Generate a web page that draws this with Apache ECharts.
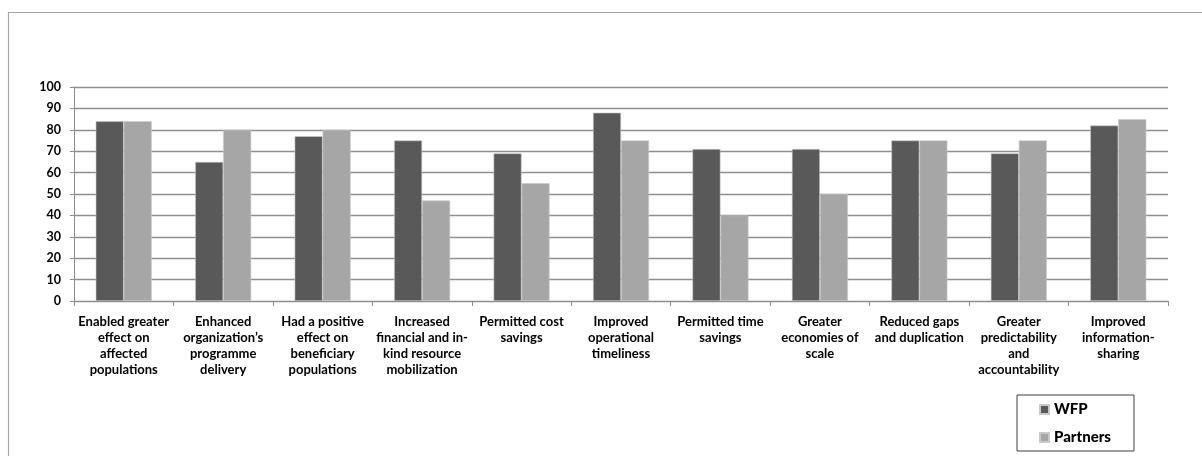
<!DOCTYPE html>
<html>
<head>
<meta charset="utf-8">
<script src="https://cdn.jsdelivr.net/npm/echarts@6/dist/echarts.min.js"></script>
<style>
html,body{margin:0;padding:0;background:#fff;}
#chart{width:1202px;height:456px;}
</style>
</head>
<body>
<div id="chart"></div>
<script>
const categories = [
  "Enabled greater\neffect on\naffected\npopulations",
  "Enhanced\norganization’s\nprogramme\ndelivery",
  "Had a positive\neffect on\nbeneficiary\npopulations",
  "Increased\nfinancial and in-\nkind resource\nmobilization",
  "Permitted cost\nsavings",
  "Improved\noperational\ntimeliness",
  "Permitted time\nsavings",
  "Greater\neconomies of\nscale",
  "Reduced gaps\nand duplication",
  "Greater\npredictability\nand\naccountability",
  "Improved\ninformation-\nsharing"
];
const seriesNames = ["WFP", "Partners"];
const wfpValues = [84, 65, 77, 75, 69, 88, 71, 71, 75, 69, 82];
const partnersValues = [84, 80, 80, 47, 55, 75, 40, 50, 75, 75, 85];

const chart = echarts.init(document.getElementById('chart'), null, {renderer: 'canvas'});
const FONT = 'Lato';
chart.setOption({
  animation: false,
  backgroundColor: '#ffffff',
  textStyle: {fontFamily: FONT},
  graphic: [{
    type: 'rect',
    shape: {x: 8.5, y: 12.5, width: 1300, height: 500},
    style: {fill: 'none', stroke: '#a6a6a6', lineWidth: 1.2},
    z: -1
  }],
  grid: {left: 74, right: 34, top: 87, bottom: 155, containLabel: false},
  legend: {
    orient: 'vertical',
    left: 1017,
    top: 395,
    itemWidth: 9,
    itemHeight: 9,
    itemGap: 13,
    padding: [7, 23, 6, 22],
    borderColor: '#404040',
    borderWidth: 1,
    icon: 'rect',
    textStyle: {fontFamily: FONT, fontWeight: 900, fontSize: 15, color: '#000'},
    data: seriesNames
  },
  xAxis: {
    type: 'category',
    data: categories,
    axisLine: {lineStyle: {color: '#8c8c8c', width: 1}},
    axisTick: {show: true, length: 5, alignWithLabel: false, lineStyle: {color: '#8c8c8c'}},
    axisLabel: {
      interval: 0,
      margin: 13,
      fontFamily: FONT,
      fontWeight: 'bold',
      fontSize: 13,
      lineHeight: 16,
      color: '#000',
      align: 'center'
    }
  },
  yAxis: {
    type: 'value',
    min: 0,
    max: 100,
    interval: 10,
    axisLine: {show: true, lineStyle: {color: '#8c8c8c', width: 1}},
    axisTick: {show: true, length: 4, lineStyle: {color: '#8c8c8c'}},
    axisLabel: {margin: 13, fontFamily: FONT, fontWeight: 'bold', fontSize: 12.5, color: '#000'},
    splitLine: {show: true, lineStyle: {color: '#8f8f8f', width: 1.4}}
  },
  series: [
    {
      name: seriesNames[0],
      type: 'bar',
      data: wfpValues,
      barWidth: 28,
      barGap: '0%',
      itemStyle: {color: '#595959', borderColor: '#c8c8c8', borderWidth: 0.6}
    },
    {
      name: seriesNames[1],
      type: 'bar',
      data: partnersValues,
      barWidth: 28,
      barGap: '0%',
      itemStyle: {color: '#a6a6a6', borderColor: '#c8c8c8', borderWidth: 0.6}
    }
  ]
});
</script>
</body>
</html>
